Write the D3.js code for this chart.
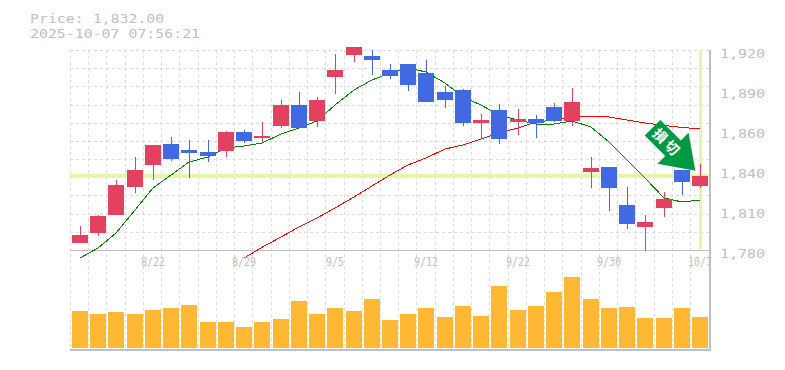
<!DOCTYPE html>
<html>
<head>
<meta charset="utf-8">
<script src="https://cdn.jsdelivr.net/npm/d3@7"></script>
<style>
  html, body { margin: 0; padding: 0; background: #fff; }
  svg { display: block; }
  text { font-family: "DejaVu Sans Mono", monospace; fill: #c0c0c0; }
</style>
</head>
<body>
<div id="container"></div>
<script>
// values
let dates = ["8/18","8/19","8/20","8/21","8/22","8/25","8/26","8/27","8/28","8/29","9/1","9/2","9/3","9/4","9/5","9/8","9/9","9/10","9/11","9/12","9/16","9/17","9/18","9/19","9/22","9/24","9/25","9/26","9/29","9/30","10/1","10/2","10/3","10/6","10/7"];
let dateLabels = ["8/22","8/29","9/5","9/12","9/22","9/30","10/7"];
let opens = [1785,1792.1,1804.7,1824.3,1839.7,1854.2,1850,1848.6,1849.5,1862.6,1858.4,1866.8,1881.5,1870.3,1901.1,1916.5,1915.8,1906,1910.2,1903.9,1890.6,1892,1868.9,1878,1869.6,1871.7,1880.1,1870.3,1834.6,1838.1,1811.5,1796.1,1809.4,1836,1824.8];
let closes = [1790.5,1803.8,1825.5,1836,1853.5,1843.7,1847.9,1845.8,1862.6,1856.3,1859.8,1881.5,1865.4,1885,1906,1922.1,1913,1901.8,1895.5,1883.6,1885,1868.9,1871,1857.7,1871.7,1868.9,1870.3,1883.6,1837.4,1823.4,1798.2,1799.6,1815.7,1827.6,1832];
let highs = [1796.8,1804.5,1829,1845.1,1853.5,1859.1,1857,1857,1863.3,1864,1869.6,1885,1890.6,1887.1,1917.2,1922.1,1920,1910.2,1910.2,1913,1894.8,1892.7,1875.2,1882.2,1878.7,1874.5,1882.9,1893.4,1845.1,1838.1,1824.1,1804.5,1820.6,1836,1840.2];
let lows = [1785,1789.8,1804.7,1820.1,1829,1842.3,1830.4,1841.6,1845.1,1854.9,1855.6,1865.4,1865.4,1866.1,1889.2,1911.6,1902.5,1899.7,1891.3,1883.6,1879.4,1866.8,1858.4,1854.2,1860.5,1858.4,1869.6,1866.8,1823.4,1807.3,1794.7,1779.3,1803.1,1818.5,1823.4];
let maShort = [1774.4,1781.4,1791.9,1808,1823.4,1832.5,1841.6,1845.1,1851.4,1852.8,1854.9,1861.2,1865.4,1870.3,1881.5,1892,1899,1903.9,1907.4,1904.6,1896.9,1887.1,1881.5,1874.5,1871,1868.2,1868.2,1870.3,1866.1,1855.6,1843,1830.4,1816.4,1813.6,1815];
let maLong = [null,null,null,null,null,null,null,null,null,1774.4,1781.9,1789.1,1796.1,1802.4,1809.4,1817.1,1824.8,1832.5,1839.5,1844.4,1850.7,1853.5,1857.7,1861.9,1865.4,1869.6,1871,1873.1,1873.8,1873.1,1871,1868.9,1867.2,1865.8,1864.7];
let volumes = [37,34,36,34,38,40,43,26,26,21,26,29,47,34,40,37,49,28,34,40,31,42,32,62,38,42,56,71,49,40,41,30,30,40,31];
let priceTicks = [1920,1892,1864,1836,1808,1780];
let priceTickLabels = ["1,920","1,890","1,860","1,840","1,810","1,780"];
let lastPrice = 1832;
let titleLines = ["Price: 1,832.00","2025-10-07 07:56:21"];
let arrowLabel = "損切";

let w = 785;
let h = 370;
let left = 70;
let right = 710;
let top_ = 50;
let bottom = 250;
let volTop = 277;
let volBottom = 348;
let volAxis = 350;

let viz = d3.select("#container").append("svg")
  .attr("width", w)
  .attr("height", h);

let xScale = d3.scaleBand()
  .domain(dates)
  .range([left, left + 18.235*dates.length]);
let yScale = d3.scaleLinear().domain([1780, 1920]).range([bottom, top_]);
let volScale = d3.scaleLinear().domain([0, 71]).range([volBottom, volTop]);

function center(d){ return Math.round(xScale(d)) + 10; }

// grid
let gridGroup = viz.append("g").attr("shape-rendering", "crispEdges");
gridGroup.selectAll(".vgrid").data(dates).enter().append("line")
  .attr("x1", d => Math.round(xScale(d)) + 0.5)
  .attr("x2", d => Math.round(xScale(d)) + 0.5)
  .attr("y1", top_)
  .attr("y2", volAxis)
  .attr("stroke", "#dcdcdc")
  .attr("stroke-dasharray", "3,3");
gridGroup.selectAll(".hgrid").data(d3.range(11)).enter().append("line")
  .attr("x1", left)
  .attr("x2", right)
  .attr("y1", d => Math.round(top_ + d*(bottom - top_)/11) + 0.5)
  .attr("y2", d => Math.round(top_ + d*(bottom - top_)/11) + 0.5)
  .attr("stroke", "#dcdcdc")
  .attr("stroke-dasharray", "3,3");

// last price cross
viz.append("rect")
  .attr("x", left)
  .attr("y", yScale(lastPrice) - 2)
  .attr("width", right - left)
  .attr("height", 4)
  .attr("fill", "#e6f6a8");
viz.append("rect")
  .attr("x", center(dates[34]) - 1)
  .attr("y", top_)
  .attr("width", 3)
  .attr("height", bottom - top_ - 1)
  .attr("fill", "#e6f6a8");

// axes frame
let frame = viz.append("g").attr("stroke", "#c0c0c0").attr("shape-rendering", "crispEdges");
frame.append("line").attr("x1", left).attr("x2", right).attr("y1", bottom + 0.5).attr("y2", bottom + 0.5);
frame.append("line").attr("x1", left).attr("x2", right).attr("y1", volAxis).attr("y2", volAxis).attr("stroke-width", 2);
frame.append("line").attr("x1", right).attr("x2", right).attr("y1", top_).attr("y2", volAxis + 1).attr("stroke-width", 2);

// moving averages
let line = d3.line()
  .defined(d => d[1] !== null)
  .x(d => center(d[0]))
  .y(d => yScale(d[1]));
viz.append("path")
  .attr("d", line(dates.map((d, i) => [d, maShort[i]])))
  .attr("fill", "none").attr("stroke", "#008000").attr("shape-rendering", "crispEdges");
viz.append("path")
  .attr("d", line(dates.map((d, i) => [d, maLong[i]])))
  .attr("fill", "none").attr("stroke", "#ff0000").attr("shape-rendering", "crispEdges");

// candles
let candles = viz.selectAll(".datapoint").data(dates).enter().append("g")
  .classed("datapoint", true)
  .attr("shape-rendering", "crispEdges")
  .attr("fill", (d, i) => closes[i] >= opens[i] ? "#e2425f" : "#4169e1");
candles.append("rect")
  .attr("x", d => center(d))
  .attr("width", 1)
  .attr("y", (d, i) => yScale(highs[i]))
  .attr("height", (d, i) => yScale(lows[i]) - yScale(highs[i]));
candles.append("rect")
  .attr("x", d => center(d) - 8)
  .attr("width", 16)
  .attr("y", (d, i) => yScale(Math.max(opens[i], closes[i])))
  .attr("height", (d, i) => Math.abs(yScale(opens[i]) - yScale(closes[i])));

// volume
viz.selectAll(".vol").data(dates).enter().append("rect")
  .attr("x", d => center(d) - 8)
  .attr("width", 16)
  .attr("y", (d, i) => volScale(volumes[i]))
  .attr("height", (d, i) => volBottom - volScale(volumes[i]))
  .attr("fill", "#ffb833")
  .attr("shape-rendering", "crispEdges");

// tick labels, stretched with textLength because the original font is wider
viz.selectAll(".ytick").data(priceTicks).enter().append("text")
  .attr("x", 720)
  .attr("y", d => yScale(d) + 7.5)
  .attr("font-size", 13)
  .attr("textLength", 45)
  .attr("lengthAdjust", "spacingAndGlyphs")
  .text((d, i) => priceTickLabels[i]);
viz.selectAll(".xtick").data(dateLabels).enter().append("text")
  .attr("x", d => center(d))
  .attr("y", 266)
  .attr("text-anchor", "middle")
  .attr("font-size", 12)
  .attr("textLength", d => d.length*6)
  .attr("lengthAdjust", "spacingAndGlyphs")
  .text(d => d);

// title
viz.selectAll(".title").data(titleLines).enter().append("text")
  .attr("x", 30)
  .attr("y", (d, i) => 23 + i*15)
  .attr("font-size", 13)
  .attr("textLength", d => d.length*8.95)
  .attr("lengthAdjust", "spacingAndGlyphs")
  .text(d => d);

// arrow
let arrow = viz.append("g").attr("transform", "translate(652.5,127.8) rotate(45)");
arrow.append("path")
  .attr("d", "M0,-11 L29,-11 L29,-22 L60.6,0 L29,22 L29,11 L0,11 Z")
  .attr("fill", "#009944");
arrow.append("text")
  .attr("x", 21)
  .attr("y", 5.5)
  .attr("text-anchor", "middle")
  .attr("font-weight", "bold")
  .attr("font-size", 14)
  .attr("letter-spacing", 3)
  .style("fill", "#fff")
  .style("font-family", "'Noto Sans CJK JP'")
  .text(arrowLabel);
</script>
</body>
</html>
